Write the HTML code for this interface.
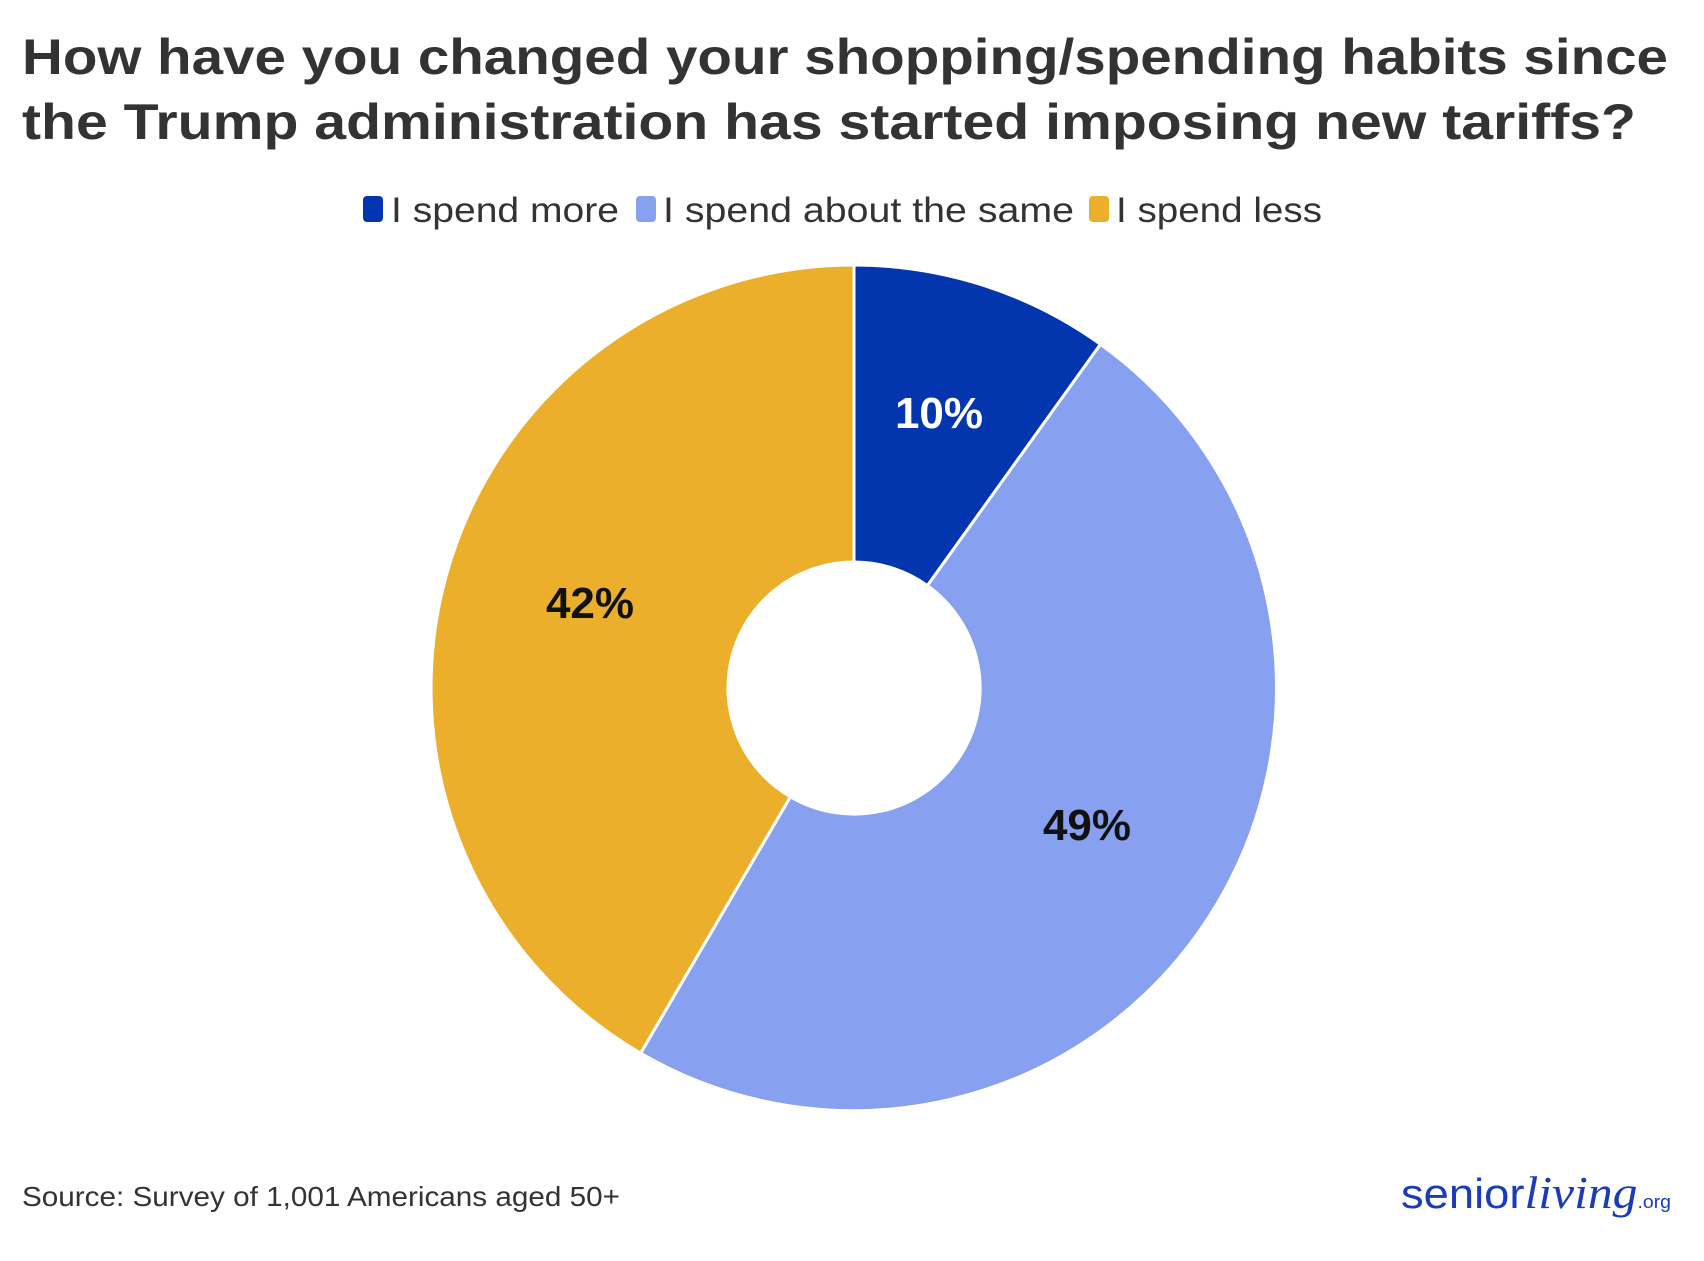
<!DOCTYPE html>
<html><head><meta charset="utf-8"><style>
body{margin:0;width:1704px;height:1256px;background:#fff;overflow:hidden;font-family:"Liberation Sans",sans-serif;}
</style></head><body>
<svg width="1704" height="1256" viewBox="0 0 1704 1256" xmlns="http://www.w3.org/2000/svg">
<text x="22" y="74" font-size="50" font-weight="bold" fill="#333" textLength="1646" lengthAdjust="spacingAndGlyphs">How have you changed your shopping/spending habits since</text>
<text x="22" y="139" font-size="50" font-weight="bold" fill="#333" textLength="1614" lengthAdjust="spacingAndGlyphs">the Trump administration has started imposing new tariffs?</text>
<g font-size="35" fill="#333">
<rect x="363" y="196" width="20" height="26" rx="4" fill="#0335AE"/>
<text x="391" y="222" textLength="228" lengthAdjust="spacingAndGlyphs">I spend more</text>
<rect x="636" y="196" width="20" height="26" rx="4" fill="#87A0F0"/>
<text x="663" y="222" textLength="411" lengthAdjust="spacingAndGlyphs">I spend about the same</text>
<rect x="1089" y="196" width="20" height="26" rx="4" fill="#EBAF2C"/>
<text x="1116" y="222" textLength="206" lengthAdjust="spacingAndGlyphs">I spend less</text>
</g>
<g transform="translate(-3,-2)">
<g stroke="#fff" stroke-width="3" stroke-linejoin="round">
<path d="M857,267 A423,423 0 0 1 1103.5,346.3 L930.4,587.6 A126,126 0 0 0 857,564 Z" fill="#0335AE"/>
<path d="M1103.5,346.3 A423,423 0 0 1 643.6,1055.2 L793.4,798.8 A126,126 0 0 0 930.4,587.6 Z" fill="#87A0F0"/>
<path d="M643.6,1055.2 A423,423 0 0 1 857,267 L857,564 A126,126 0 0 0 793.4,798.8 Z" fill="#EBAF2C"/>
</g>
</g>
<g font-size="44" font-weight="bold" text-anchor="middle">
<text x="939" y="428" fill="#fff">10%</text>
<text x="590" y="618" fill="#111">42%</text>
<text x="1087" y="840" fill="#111">49%</text>
</g>
<text x="22" y="1206" font-size="28" fill="#333" textLength="598" lengthAdjust="spacingAndGlyphs">Source: Survey of 1,001 Americans aged 50+</text>
<text x="1401" y="1208" font-size="42" fill="#1A3CB8" textLength="270" lengthAdjust="spacingAndGlyphs">senior<tspan font-family="'Liberation Serif',serif" font-style="italic" font-size="46">living</tspan><tspan font-size="18">.org</tspan></text>
</svg>
</body></html>
